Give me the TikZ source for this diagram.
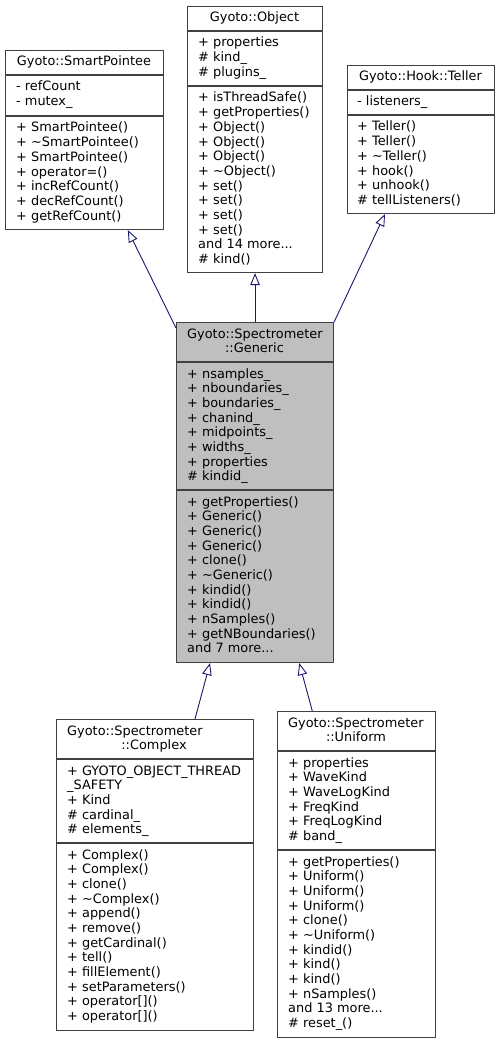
\documentclass[tikz,border=0pt]{standalone}
\usepackage{fontspec}
\setmainfont{DejaVu Sans}
\usetikzlibrary{arrows.meta}
\definecolor{edgeblue}{HTML}{191970}
\definecolor{boxline}{HTML}{404040}
\definecolor{rootfill}{HTML}{BFBFBF}
\newcommand\mythreedots{...}
\newcommand\classlines[4]{%
  \foreach \t [count=\i from 0] in {#4} {%
    \node[txt, anchor=base west] (#1-\i) at (#2, {#3+\i*14.67}) {\t};}}
\begin{document}
\begin{tikzpicture}[x=1pt, y=-1pt,
  txt/.style={inner sep=0pt, font=\fontsize{12.9}{14.67}\selectfont},
  classbox/.style={draw=boxline, line width=1.1pt, fill=white, inner sep=0pt, anchor=north west},
  sepline/.style={draw=boxline, line width=1.1pt},
  inherit/.style={draw=edgeblue, line width=0.9pt, -{Triangle[open, length=12pt, width=9.5pt]}}]
\path[use as bounding box, fill=white] (0,0) rectangle (499,1043);

% ---- Gyoto::SmartPointee
\node[classbox, minimum width=158pt, minimum height=179pt] (sp) at (5,50) {};
\draw[sepline] (5,75) -- (163,75);
\draw[sepline] (5,116) -- (163,116);
\node[txt, anchor=base] (sp-title) at (84,66) {Gyoto::SmartPointee};
\classlines{spa}{16}{91}{- refCount, - mutex\_}
\classlines{spm}{16}{132}{+ SmartPointee(), + \textasciitilde SmartPointee(), + SmartPointee(), + operator=(), + incRefCount(), + decRefCount(), + getRefCount()}

% ---- Gyoto::Object
\node[classbox, minimum width=135pt, minimum height=266pt] (obj) at (187,6) {};
\draw[sepline] (187,31) -- (322,31);
\draw[sepline] (187,86) -- (322,86);
\node[txt, anchor=base] (obj-title) at (254.5,22) {Gyoto::Object};
\classlines{obja}{198}{47}{+ properties, \# kind\_, \# plugins\_}
\classlines{objm}{198}{102}{+ isThreadSafe(), + getProperties(), + Object(), + Object(), + Object(), + \textasciitilde Object(), + set(), + set(), + set(), + set(), and 14 more\mythreedots, \# kind()}

% ---- Gyoto::Hook::Teller
\node[classbox, minimum width=147pt, minimum height=148pt] (tel) at (347,65) {};
\draw[sepline] (347,90) -- (494,90);
\draw[sepline] (347,115) -- (494,115);
\node[txt, anchor=base] (tel-title) at (420.5,81) {Gyoto::Hook::Teller};
\classlines{tela}{357}{106}{- listeners\_}
\classlines{telm}{357}{131}{+ Teller(), + Teller(), + \textasciitilde Teller(), + hook(), + unhook(), \# tellListeners()}

% ---- Gyoto::Spectrometer::Generic
\node[classbox, fill=rootfill, minimum width=157pt, minimum height=340pt] (gen) at (176,322) {};
\draw[sepline] (176,362) -- (333,362);
\draw[sepline] (176,490) -- (333,490);
\node[txt, anchor=base west] (gen-title1) at (187,338) {Gyoto::Spectrometer};
\node[txt, anchor=base] (gen-title2) at (254.5,352.67) {::Generic};
\classlines{gena}{187}{378}{+ nsamples\_, + nboundaries\_, + boundaries\_, + chanind\_, + midpoints\_, + widths\_, + properties, \# kindid\_}
\classlines{genm}{187}{506}{+ getProperties(), + Generic(), + Generic(), + Generic(), + clone(), + \textasciitilde Generic(), + kindid(), + kindid(), + nSamples(), + getNBoundaries(), and 7 more\mythreedots}

% ---- Gyoto::Spectrometer::Complex
\node[classbox, minimum width=197pt, minimum height=311pt] (cpx) at (56,719) {};
\draw[sepline] (56,759) -- (253,759);
\draw[sepline] (56,843) -- (253,843);
\node[txt, anchor=base west] (cpx-title1) at (67,735) {Gyoto::Spectrometer};
\node[txt, anchor=base] (cpx-title2) at (154,749.67) {::Complex};
\classlines{cpxa}{67}{775}{+ GYOTO\_OBJECT\_THREAD, \_SAFETY, + Kind, \# cardinal\_, \# elements\_}
\classlines{cpxm}{67}{859}{+ Complex(), + Complex(), + clone(), + \textasciitilde Complex(), + append(), + remove(), + getCardinal(), + tell(), + fillElement(), + setParameters(), {+ operator[]()}, {+ operator[]()}}

% ---- Gyoto::Spectrometer::Uniform
\node[classbox, minimum width=158pt, minimum height=326pt] (uni) at (277,711) {};
\draw[sepline] (277,751) -- (435,751);
\draw[sepline] (277,850) -- (435,850);
\node[txt, anchor=base west] (uni-title1) at (288,727) {Gyoto::Spectrometer};
\node[txt, anchor=base] (uni-title2) at (356,741.67) {::Uniform};
\classlines{unia}{288}{767}{+ properties, + WaveKind, + WaveLogKind, + FreqKind, + FreqLogKind, \# band\_}
\classlines{unim}{288}{866}{+ getProperties(), + Uniform(), + Uniform(), + Uniform(), + clone(), + \textasciitilde Uniform(), + kindid(), + kind(), + kind(), + nSamples(), and 13 more\mythreedots, \# reset\_()}

% ---- inheritance edges
\draw[inherit] ([yshift=-6pt]gen.north west) -- ([xshift=-36.3pt]sp.south east);
\draw[inherit] (gen.north) -- (obj.south);
\draw[inherit] (gen.north east) -- ([xshift=38pt]tel.south west);
\draw[inherit] ([xshift=139pt]cpx.north west) -- ([xshift=34pt]gen.south west);
\draw[inherit] ([xshift=35.3pt]uni.north west) -- ([xshift=123.3pt]gen.south west);
\end{tikzpicture}
\end{document}
